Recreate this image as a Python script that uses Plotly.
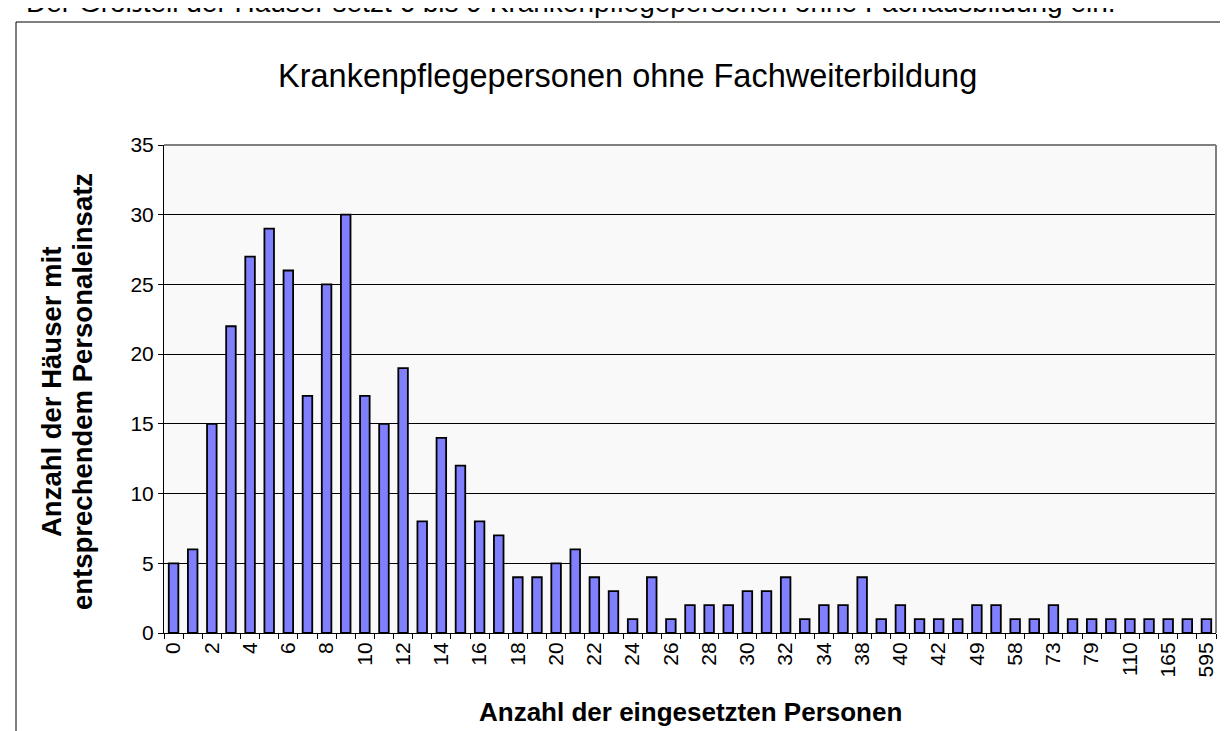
import plotly.graph_objects as go

# ---- data ----
categories = [str(i) for i in range(0, 35)] + [
    "36", "38", "39", "40", "41", "42", "45", "49", "52", "58",
    "65", "73", "75", "79", "90", "110", "130", "165", "250", "595"]
counts = [5, 6, 15, 22, 27, 29, 26, 17, 25, 30, 17, 15, 19, 8, 14, 12, 8, 7, 4, 4,
          5, 6, 4, 3, 1, 4, 1, 2,
          2, 2, 3, 3, 4, 1, 2, 2, 4, 1, 2, 1, 1, 1, 2, 2, 1, 1, 2, 1, 1, 1, 1, 1, 1, 1, 1]
tick_labels = [c if i % 2 == 0 else "" for i, c in enumerate(categories)]

title_text = "Krankenpflegepersonen ohne Fachweiterbildung"
x_title = "Anzahl der eingesetzten Personen"
y_title_lines = ["Anzahl der Häuser mit", "entsprechendem Personaleinsatz"]
top_text = "Der Großteil der Häuser setzt 6 bis 9 Krankenpflegepersonen ohne Fachausbildung ein."

FONT = "Liberation Sans, Arial, sans-serif"

W, H = 1228, 731
ML, MR, MT, MB = 156, 20, 137, 106
PW = W - ML - MR
PH = H - MT - MB


def px_x(px):
    return (px - ML) / PW


def px_y(py):
    return (H - MB - py) / PH


fig = go.Figure()
fig.add_trace(go.Bar(
    x=categories, y=counts,
    marker=dict(color="#8080FF", line=dict(color="black", width=1.8)),
    showlegend=False,
))

fig.update_layout(
    width=W, height=H,
    margin=dict(l=ML, r=MR, t=MT, b=MB),
    paper_bgcolor="white",
    plot_bgcolor="#f9f9f9",
    bargap=0.5,
    font=dict(family=FONT, color="black"),
    xaxis=dict(
        type="category",
        tickmode="array",
        tickvals=categories,
        ticktext=tick_labels,
        tickangle=-90,
        tickson="boundaries",
        ticks="outside",
        ticklen=5,
        tickcolor="black",
        showline=True, linecolor="black", linewidth=1,
        showgrid=False,
        tickfont=dict(size=21, family=FONT),
        range=[-0.5, len(categories) - 0.5],
    ),
    yaxis=dict(
        range=[0, 35],
        dtick=5,
        ticks="outside",
        ticklen=5,
        tickcolor="black",
        showline=True, linecolor="black", linewidth=1,
        showgrid=True, gridcolor="black", gridwidth=1,
        zeroline=False,
        tickfont=dict(size=21, family=FONT),
    ),
)

# plot area top/right border (gray)
fig.add_shape(type="line", xref="paper", yref="paper", x0=0, x1=1, y0=1, y1=1,
              line=dict(color="#808080", width=2))
fig.add_shape(type="line", xref="paper", yref="paper", x0=1, x1=1, y0=0, y1=1,
              line=dict(color="#808080", width=2))

# outer chart frame
fig.add_shape(type="rect", xref="paper", yref="paper",
              x0=px_x(8), x1=px_x(1240), y0=px_y(745), y1=px_y(14),
              line=dict(color="black", width=1), layer="below")

annotations = [
    dict(text=title_text, x=px_x(619), y=px_y(68), xref="paper", yref="paper",
         showarrow=False, xanchor="center", yanchor="middle",
         font=dict(size=32.5, family=FONT)),
    dict(text="<b>" + x_title + "</b>", x=px_x(682), y=px_y(704), xref="paper", yref="paper",
         showarrow=False, xanchor="center", yanchor="middle",
         font=dict(size=26, family=FONT)),
    dict(text=top_text, x=px_x(16), y=px_y(-6), xref="paper", yref="paper",
         showarrow=False, xanchor="left", yanchor="middle",
         font=dict(size=28, family=FONT)),
]
for i, line in enumerate(y_title_lines):
    annotations.append(dict(
        text="<b>" + line + "</b>", x=px_x(43 + 31 * i), y=px_y(384),
        xref="paper", yref="paper", showarrow=False,
        xanchor="center", yanchor="middle", textangle=-90,
        font=dict(size=27.5, family=FONT)))
fig.update_layout(annotations=annotations)

fig.write_html("out.html")
